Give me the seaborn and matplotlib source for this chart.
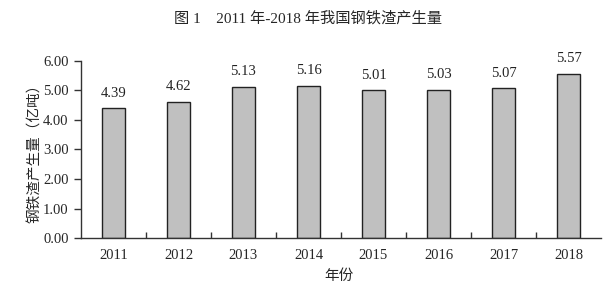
import matplotlib
matplotlib.use("Agg")
import matplotlib.pyplot as plt
import seaborn as sns
import pandas as pd
from matplotlib.ticker import FixedLocator

years = ["2011", "2012", "2013", "2014", "2015", "2016", "2017", "2018"]
values = [4.39, 4.62, 5.13, 5.16, 5.01, 5.03, 5.07, 5.57]
yticks = [0, 1, 2, 3, 4, 5, 6]

sns.set_theme(style="ticks")
plt.rcParams['font.family'] = ['Liberation Serif', 'Noto Sans CJK SC']
plt.rcParams['axes.unicode_minus'] = False

df = pd.DataFrame({"year": years, "value": values})

fig = plt.figure(figsize=(6.16, 2.9), dpi=100)
ax = fig.add_axes([0.1315, 0.1793, 0.8441, 0.6104])
sns.barplot(data=df, x="year", y="value", ax=ax, color="#C0C0C0",
            saturation=1, width=0.34, edgecolor="#222222", linewidth=1)
for c in ax.containers:
    ax.bar_label(c, fmt="%.2f", padding=6, fontsize=10.5, color="#222222")

ax.set_xlim(-0.5, len(years) - 0.5)
ax.set_ylim(0, 6)
ax.set_yticks(yticks)
ax.set_yticklabels([f"{v:.2f}" for v in yticks], fontsize=10.5)
ax.tick_params(axis='x', which='major', length=0, labelsize=10.5, pad=8)
ax.xaxis.set_minor_locator(FixedLocator([i + 0.5 for i in range(len(years) - 1)]))
ax.tick_params(axis='x', which='minor', direction='in', length=4, width=1, color="#333333")
ax.tick_params(axis='y', direction='out', length=5, width=1, color="#333333", pad=4)
sns.despine(ax=ax)
for s in ["left", "bottom"]:
    ax.spines[s].set_color("#333333")
    ax.spines[s].set_linewidth(1)

ax.set_xlabel("年份", fontsize=10.5, family=['Noto Sans CJK SC'])
ax.xaxis.set_label_coords(0.497, -0.215)
ax.xaxis.label.set_va("center")
ax.set_ylabel("钢铁渣产生量（亿吨）", fontsize=10.5, family=['Noto Sans CJK SC'])
ax.yaxis.set_label_coords(-0.088, 0.5)
ax.yaxis.label.set_va("center")

fig.text(0.5, 0.935, "图 1    2011 年-2018 年我国钢铁渣产生量", ha="center", va="center",
         fontsize=11, family=['Liberation Serif', 'Noto Sans CJK SC'])

fig.savefig("out.png", dpi=100, facecolor="white")
